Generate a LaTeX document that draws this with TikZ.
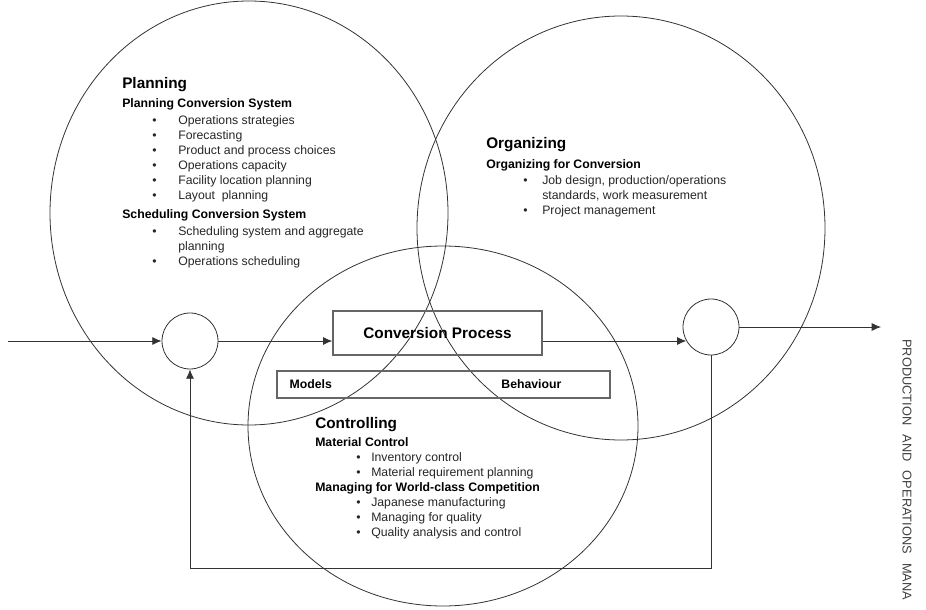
\documentclass[tikz,border=0pt]{standalone}
\usepackage{fontspec}
\setmainfont{Liberation Sans}
\usetikzlibrary{arrows.meta}

% list lines: bullet indent (optional), text starts at 42pt
\newcommand{\itm}[2][22.5pt]{\hspace*{#1}\makebox[\dimexpr42pt-#1\relax][l]{\textbullet}#2}
\newcommand{\cnt}[1]{\hspace*{42pt}#1}

\begin{document}
\begin{tikzpicture}[x=0.75pt,y=0.75pt,yscale=-1,xscale=1,
    line/.style={draw=black!80, line width=0.6pt},
    arr/.style={line, -{Latex[length=7pt,width=6pt]}},
    junction/.style={circle, line, minimum size=42pt, inner sep=0pt},
    procbox/.style={draw=black!60, line width=1pt, inner sep=0pt},
    head/.style={anchor=north west, inner sep=0pt, font=\fontsize{11.5pt}{14pt}\selectfont\bfseries},
    body/.style={anchor=north west, inner sep=0pt, align=left, text=black!85, font=\fontsize{9.2pt}{11.25pt}\selectfont},
    small/.style={inner sep=0pt, font=\fontsize{9.2pt}{11pt}\selectfont\bfseries}]
\useasboundingbox (0,0) rectangle (926,610);

% planning, organizing, controlling
\draw [line] (249,213) ellipse (199 and 212);
\draw [line] (621,228) ellipse (204 and 212);
\draw [line] (443,426) ellipse (195 and 180);

% flow through the system
\node [junction] (lc) at (190,341) {};
\node [junction] (rc) at (711,327) {};
\node [procbox, minimum width=156.75pt, minimum height=33pt, font=\fontsize{11.5pt}{14pt}\selectfont\bfseries] (cp) at (437.5,333) {Conversion Process};
\node [procbox, minimum width=249.75pt, minimum height=20.25pt] (mb) at (443.5,384.5) {};
\node [small, anchor=west] (mdl) at ([xshift=9.75pt]mb.west) {Models};
\node [small, anchor=east] (bhv) at ([xshift=-36.75pt]mb.east) {Behaviour};

\coordinate (in) at (8,341);
\coordinate (out) at (881,327);
\coordinate (fb) at (450,568);
\draw [arr] (in) -- (lc);
\draw [arr] (lc) -- (lc -| cp.west);
\draw [arr] (cp.east |- lc) -- (lc -| rc.210);
\draw [arr] (rc) -- (out);
\draw [arr] (rc.south) -- (rc.south |- fb) -| (lc.south);

% texts
\node [head] (plan) at (122,77.5) {Planning};
\node [body] (planlist) at (122,98.5) {\textbf{\textcolor{black}{Planning Conversion System}}\\[1.5pt]
    \itm{Operations strategies}\\
    \itm{Forecasting}\\
    \itm{Product and process choices}\\
    \itm{Operations capacity}\\
    \itm{Facility location planning}\\
    \itm{Layout \ planning}\\[3pt]
    \textbf{\textcolor{black}{Scheduling Conversion System}}\\[1.5pt]
    \itm{Scheduling system and aggregate}\\
    \cnt{planning}\\
    \itm{Operations scheduling}};

\node [head] (org) at (486,137.5) {Organizing};
\node [body] (orglist) at (486,159.5) {\textbf{\textcolor{black}{Organizing for Conversion}}\\[0.75pt]
    \itm[27.75pt]{Job design, production/operations}\\
    \cnt{standards, work measurement}\\
    \itm[27.75pt]{Project management}};

\node [head] (ctrl) at (315,417.5) {Controlling};
\node [body] (ctrllist) at (315,437.5) {\textbf{\textcolor{black}{Material Control}}\\
    \itm[30.75pt]{Inventory control}\\
    \itm[30.75pt]{Material requirement planning}\\
    \textbf{\textcolor{black}{Managing for World-class Competition}}\\
    \itm[30.75pt]{Japanese manufacturing}\\
    \itm[30.75pt]{Managing for quality}\\
    \itm[30.75pt]{Quality analysis and control}};

\node [rotate=-90, anchor=west, inner sep=0pt, text=black!75, font=\fontsize{9.6pt}{11pt}\selectfont] (hdr) at (907,339) {PRODUCTION\hspace{7pt}AND\hspace{7pt}OPERATIONS\hspace{7pt}MANA};
\end{tikzpicture}
\end{document}
